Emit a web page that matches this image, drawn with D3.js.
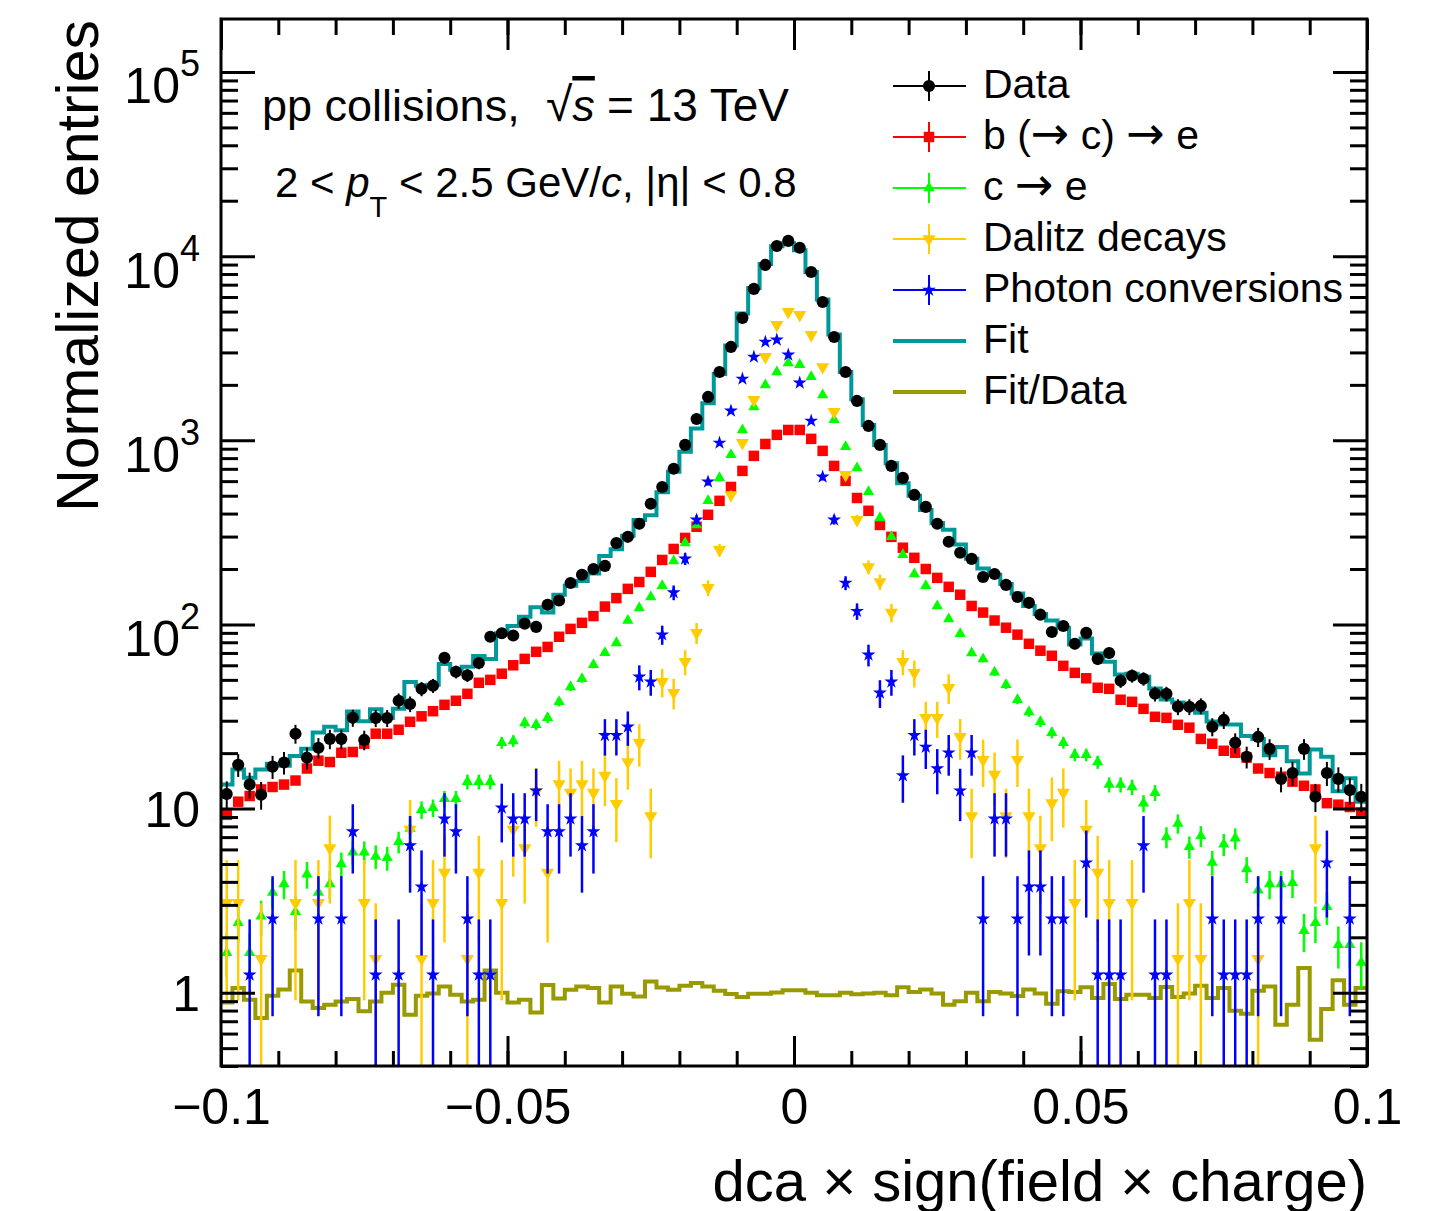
<!DOCTYPE html>
<html>
<head>
<meta charset="utf-8">
<script src="https://cdn.jsdelivr.net/npm/d3@7"></script>
<style>
  body { margin: 0; background: #fff; }
  svg text { font-family: "Liberation Sans", Arial, Helvetica, sans-serif; fill: #000; }
</style>
</head>
<body>
<svg id="chart" width="1441" height="1211"></svg>
<script>
// binning of the dca distribution
var binLow = -0.1, binWidth = 0.002, nBins = 100;

// normalized entries per bin
var dataVals = [12, 17.3, 13.5, 11.9, 16.9, 17.8, 25.5, 18.9, 21.4, 23.9,
  23.9, 31.1, 23.6, 31, 31, 38.5, 37, 44.7, 46.5, 65.9,
  55.3, 53, 61.7, 85.7, 89.6, 87, 101, 97, 128, 135,
  168, 186, 200, 208, 277, 299, 352, 452, 558, 700,
  944, 1306, 1720, 2350, 3214, 4620, 6640, 8960, 11350, 12100,
  11100, 8200, 5640, 3640, 2350, 1636, 1197, 944, 726, 625,
  505, 435, 352, 281, 245, 227, 181, 188, 164, 141,
  131, 113, 91, 98, 78.5, 90, 65, 70, 49.4, 52.6,
  50.7, 42, 42, 35.7, 35.7, 36.1, 27.8, 30.3, 22.8, 19.1,
  24.5, 21.1, 14.5, 15.6, 21.1, 11.6, 15.6, 14.5, 12.6, 11.6];

var beautyVals = [9.25, 10.9, 11.7, 12.7, 13.1, 13.5, 14.2, 16.5, 18.2, 17.9,
  20.1, 20.3, 22.5, 25.5, 25.5, 26.8, 29.6, 31.7, 33.8, 36.6,
  38.5, 42, 48.2, 50, 54, 60, 65, 71, 75.5, 85.7,
  94.6, 102, 111, 125, 139, 156, 170, 193, 224, 257,
  295, 339, 394, 469, 558, 682, 823, 955, 1070, 1138,
  1138, 1018, 876, 726, 602, 486, 414, 347, 299, 261,
  230, 200, 179, 160, 145, 126, 116, 105, 96, 88,
  78.5, 72, 67.6, 59.6, 54.6, 51, 45.3, 44.7, 39, 38,
  34.8, 31.5, 31.1, 28.5, 27.5, 23.9, 22.5, 20.6, 20.1, 18.9,
  16.5, 15.6, 14.9, 14, 13.3, 12.7, 10.7, 10.5, 10.2, 9.5];

var charmVals = [1.65, 2.4, 1.65, 2.6, 3.5, 3.9, 2.75, 4.4, 3.5, 3.9,
  5.0, 5.8, 5.8, 5.5, 5.4, 6.6, 7.8, 9.85, 10.1, 11.3,
  11.3, 14, 14, 14, 22.8, 23.3, 29.2, 28.5, 31.1, 38,
  45.8, 50.7, 60.4, 70.2, 79.4, 105, 123, 141, 162, 221,
  277, 347, 469, 625, 834, 1138, 1518, 1996, 2350, 2630,
  2570, 2210, 1762, 1291, 921, 708, 525, 379, 299, 239,
  188, 162, 126, 107, 89, 70, 65, 55, 47, 39,
  33.5, 29.6, 25.8, 22.8, 19.6, 19.6, 17.9, 13.5, 13.5, 13.1,
  10.7, 12.2, 7.0, 8.3, 6.2, 7.1, 5.1, 6.4, 6.9, 4.7,
  3.6, 3.9, 3.9, 3.95, 2.17, 2.4, 2.93, 1.82, 1.82, 1.46];

var dalitzVals = [3.08, 3.08, null, 1.53, null, null, 3.08, null, 3.08, 6.1,
  null, null, 3.08, 1.53, null, null, 7.7, 1.53, 3.08, 4.5,
  null, 1.53, 4.5, null, 3.08, 7.7, 6.1, 12.3, 4.5, 13.6,
  12.2, 13.6, 12.2, 15.1, 10.6, 17.9, 22.8, 9.1, 48.8, 42.6,
  62.7, 90, 158, 254, 505, 968, 1657, 2837, 4236, 4980,
  4800, 3735, 2502, 1426, 649, 370, 205, 170, 116, 62.7,
  54.6, 31.1, 31.1, 45.3, 24.5, 9.1, 18.4, 15.3, 9.1, 18.4,
  9.1, 6.1, 10.7, 12.2, 3.08, 7.7, 4.5, 3.08, null, 3.08,
  null, null, null, 1.53, 3.08, 1.53, null, null, null, null,
  1.53, null, null, null, null, 6.1, null, null, null, null];

var conversionVals = [null, null, 1.25, null, 2.52, null, null, null, 2.52, null,
  2.52, 7.5, null, 1.25, null, 1.25, 6.3, 3.76, 1.25, 8.8,
  7.5, 2.52, 1.25, 1.25, 10.1, 8.8, 8.8, 12.5, 7.5, 7.5,
  8.8, 6.3, 7.5, 25, 25, 27.8, 51.9, 48.8, 88, 149,
  227, 370, 595, 968, 1445, 2154, 2837, 3420, 3510, 2910,
  2050, 1274, 633, 370, 168, 118, 68.4, 42.5, 48.8, 15.1,
  25, 21.6, 16.5, 20.1, 12.5, 20.1, 2.52, 8.8, 8.8, 2.52,
  3.76, 3.76, 2.52, 2.52, null, 5.08, 1.25, 1.25, 1.25, null,
  6.3, 1.25, 1.25, null, null, null, 2.52, 1.25, 1.25, 1.25,
  2.52, null, 2.52, null, null, null, 5.08, null, 2.52, null];

var fitVals = [13.5, 16.3, 14.7, 16.3, 17.5, 17.1, 19.3, 21.1, 25.9, 27.8,
  26.6, 33.7, 29.8, 34.6, 31, 34.8, 48.7, 46.4, 47, 61,
  56.7, 59, 67.4, 65, 89.6, 98, 110, 124, 116, 145,
  162, 172, 189, 235, 256, 303, 369, 392, 522, 674,
  866, 1158, 1590, 2293, 3270, 4880, 6720, 9070, 11300, 11750,
  10780, 8200, 5810, 3750, 2350, 1670, 1210, 944, 750, 584,
  500, 418, 356, 327, 272, 227, 201, 186, 166, 147,
  126, 114, 105, 96, 77.7, 84, 69.5, 62.8, 53.5, 54,
  52, 44.9, 39.1, 37.7, 36.1, 33.1, 29.7, 28.6, 28.6, 24.8,
  23.9, 19.5, 21.6, 18.1, 15.5, 20.9, 19.1, 12.4, 14.6, 10.9];

var ratioVals = [0.886, 1.06, 0.916, 0.73, 0.963, 1.04, 1.32, 0.897, 0.826, 0.861,
  0.897, 0.924, 0.792, 0.897, 1.0, 1.105, 0.76, 0.963, 0.99, 1.08,
  0.975, 0.897, 0.916, 1.32, 1.0, 0.886, 0.916, 0.782, 1.10, 0.931,
  1.038, 1.082, 1.06, 0.886, 1.082, 0.988, 0.955, 1.152, 1.069, 1.038,
  1.09, 1.128, 1.082, 1.025, 0.983, 0.947, 0.988, 0.988, 1.004, 1.03,
  1.03, 1.0, 0.97, 0.97, 1.0, 0.98, 0.99, 1.0, 0.97, 1.07,
  1.01, 1.04, 0.99, 0.86, 0.90, 1.0, 0.90, 1.01, 0.99, 0.96,
  1.04, 0.99, 0.87, 1.02, 1.01, 1.07, 0.935, 1.114, 0.924, 0.975,
  0.975, 0.935, 1.073, 0.947, 0.99, 1.091, 0.935, 1.06, 0.798, 0.769,
  1.025, 1.082, 0.67, 0.861, 1.361, 0.556, 0.815, 1.167, 0.861, 1.06];

// weight of one entry, used for the Poisson error bars
var entryWeights = { data: 0.35, beauty: 0.03, charm: 0.12, dalitz: 1.53, conv: 1.25 };

var xTickValues = [-0.1, -0.05, 0, 0.05, 0.1];
var xTickLabels = ['\u22120.1', '\u22120.05', '0', '0.05', '0.1'];
var yTickValues = [1, 10, 100, 1000, 10000, 100000];
var yTickBase = ['1', '10', '10', '10', '10', '10'];
var yTickExp = ['', '', '2', '3', '4', '5'];

// legend labels, split so the arrows can use a font with a full size arrow
var legendLabels = [['Data'], ['b (', '\u2192', ' c) ', '\u2192', ' e'], ['c ', '\u2192', ' e'],
  ['Dalitz decays'], ['Photon conversions'], ['Fit'], ['Fit/Data']];

// frame
var fL = 221, fR = 1367, fT = 19, fB = 1066;

var svg = d3.select('#chart');

var x = d3.scaleLinear().domain([-0.1, 0.1]).range([fL, fR]);
var y = d3.scaleLog().domain([0.4, 1.94e5]).range([fB, fT]);

var centers = d3.range(nBins).map(function (k) { return binLow + binWidth * (k + 0.5); });

svg.append('defs').append('clipPath').attr('id', 'frameClip')
  .append('rect').attr('x', fL).attr('y', fT)
  .attr('width', fR - fL).attr('height', fB - fT);

var plot = svg.append('g').attr('clip-path', 'url(#frameClip)');

// histogram as a step line
function stepPoints(vals) {
  var pts = [];
  vals.forEach(function (v, k) {
    var lo = binLow + binWidth * k;
    pts.push([lo, v]);
    pts.push([lo + binWidth, v]);
  });
  return pts;
}
var stepLine = d3.line()
  .x(function (d) { return x(d[0]); })
  .y(function (d) { return y(d[1]); });

plot.append('path')
  .attr('d', stepLine(stepPoints(fitVals)))
  .attr('fill', 'none')
  .attr('stroke', '#009999')
  .attr('stroke-width', 4);

plot.append('path')
  .attr('d', stepLine(stepPoints(ratioVals)))
  .attr('fill', 'none')
  .attr('stroke', '#999900')
  .attr('stroke-width', 4);

var symbols = {
  circle: d3.symbol().type(d3.symbolCircle).size(115)(),
  square: d3.symbol().type(d3.symbolSquare).size(110)(),
  triUp: d3.symbol().type(d3.symbolTriangle).size(55)(),
  triDown: d3.symbol().type(d3.symbolTriangle).size(75)(),
  star: d3.symbol().type(d3.symbolStar).size(60)()
};

function drawSeries(vals, w, color, shape, rot, errWidth) {
  var pts = vals.map(function (v, i) { return { v: v, c: centers[i] }; })
    .filter(function (d) { return d.v !== null; });
  var g = plot.append('g');
  g.selectAll('line')
    .data(pts)
    .enter()
    .append('line')
    .attr('x1', function (d) { return x(d.c); })
    .attr('x2', function (d) { return x(d.c); })
    .attr('y1', function (d) { return y(d.v + Math.sqrt(d.v * w)); })
    .attr('y2', function (d) {
      var lo = d.v - Math.sqrt(d.v * w);
      return lo > 0.4 ? y(lo) : fB + 5;
    })
    .attr('stroke', color)
    .attr('stroke-width', errWidth);
  g.selectAll('path')
    .data(pts)
    .enter()
    .append('path')
    .attr('d', symbols[shape])
    .attr('transform', function (d) {
      return 'translate(' + x(d.c) + ',' + y(d.v) + ')' + (rot ? ' rotate(180)' : '');
    })
    .attr('fill', color);
}

drawSeries(beautyVals, entryWeights.beauty, '#ff0000', 'square', false, 2);
drawSeries(charmVals, entryWeights.charm, '#00ff00', 'triUp', false, 2.5);
drawSeries(dalitzVals, entryWeights.dalitz, '#ffcc00', 'triDown', true, 2.5);
drawSeries(conversionVals, entryWeights.conv, '#0000ff', 'star', false, 2.5);
drawSeries(dataVals, entryWeights.data, '#000000', 'circle', false, 2);

// axes, ticks pointing inwards on all four sides
function styleAxis(g) {
  g.select('.domain').remove();
  g.selectAll('line').attr('stroke', '#000').attr('stroke-width', 3);
}

svg.append('g')
  .attr('transform', 'translate(0,' + fB + ')')
  .call(d3.axisBottom(x).ticks(20).tickFormat('').tickSizeInner(-15).tickSizeOuter(0))
  .call(styleAxis);
var gx = svg.append('g')
  .attr('transform', 'translate(0,' + fB + ')')
  .call(d3.axisBottom(x).tickValues(xTickValues)
    .tickFormat(function (d, i) { return xTickLabels[i]; })
    .tickSizeInner(-30).tickSizeOuter(0).tickPadding(22))
  .call(styleAxis);
gx.selectAll('text').attr('font-size', 50).attr('fill', '#000')
  .attr('font-family', '"Liberation Sans", Arial, sans-serif');

svg.append('g')
  .attr('transform', 'translate(0,' + fT + ')')
  .call(d3.axisTop(x).ticks(20).tickFormat('').tickSizeInner(-16).tickSizeOuter(0))
  .call(styleAxis);
svg.append('g')
  .attr('transform', 'translate(0,' + fT + ')')
  .call(d3.axisTop(x).tickValues(xTickValues).tickFormat('').tickSizeInner(-31).tickSizeOuter(0))
  .call(styleAxis);

var yMinor = y.ticks().filter(function (t) { return yTickValues.indexOf(t) < 0; });

svg.append('g')
  .attr('transform', 'translate(' + fL + ',0)')
  .call(d3.axisLeft(y).tickValues(yMinor).tickFormat('').tickSizeInner(-17).tickSizeOuter(0))
  .call(styleAxis);
var gy = svg.append('g')
  .attr('transform', 'translate(' + fL + ',0)')
  .call(d3.axisLeft(y).tickValues(yTickValues).tickFormat('')
    .tickSizeInner(-34).tickSizeOuter(0).tickPadding(21))
  .call(styleAxis);
gy.selectAll('.tick text').each(function (d, i) {
  var t = d3.select(this)
    .attr('font-size', 50)
    .attr('fill', '#000')
    .attr('font-family', '"Liberation Sans", Arial, sans-serif')
    .attr('dy', yTickExp[i] ? '0.62em' : '0.36em')
    .text(null);
  t.append('tspan').text(yTickBase[i]);
  if (yTickExp[i]) {
    t.append('tspan').attr('font-size', 36).attr('dy', '-0.75em').text(yTickExp[i]);
  }
});

svg.append('g')
  .attr('transform', 'translate(' + fR + ',0)')
  .call(d3.axisRight(y).tickValues(yMinor).tickFormat('').tickSizeInner(-17).tickSizeOuter(0))
  .call(styleAxis);
svg.append('g')
  .attr('transform', 'translate(' + fR + ',0)')
  .call(d3.axisRight(y).tickValues(yTickValues).tickFormat('').tickSizeInner(-34).tickSizeOuter(0))
  .call(styleAxis);

svg.append('rect')
  .attr('x', fL).attr('y', fT)
  .attr('width', fR - fL).attr('height', fB - fT)
  .attr('fill', 'none').attr('stroke', '#000').attr('stroke-width', 3);

// axis titles
svg.append('text')
  .attr('x', fR)
  .attr('y', 1201)
  .attr('text-anchor', 'end')
  .attr('font-size', 58)
  .text('dca \u00d7 sign(field \u00d7 charge)');

svg.append('text')
  .attr('transform', 'translate(98,20) rotate(-90)')
  .attr('text-anchor', 'end')
  .attr('font-size', 59)
  .text('Normalized entries');

// collision system labels
var t1 = svg.append('text').attr('y', 121).attr('font-size', 45);
t1.append('tspan').attr('x', 262).text('pp collisions,');
t1.append('tspan').attr('x', 546).attr('font-size', 48).text('\u221a');
t1.append('tspan').attr('font-style', 'italic').attr('text-decoration', 'overline').text('s');
t1.append('tspan').attr('x', 607).attr('font-size', 46).text('= 13 TeV');

var t2 = svg.append('text').attr('x', 275).attr('y', 197).attr('font-size', 42);
t2.append('tspan').text('2 < ');
t2.append('tspan').attr('font-style', 'italic').text('p');
t2.append('tspan').attr('font-size', 29).attr('dy', 20).text('T');
t2.append('tspan').attr('dy', -20).text(' < 2.5 GeV/');
t2.append('tspan').attr('font-style', 'italic').text('c');
t2.append('tspan').text(', |\u03b7| < 0.8');

// legend
var legendRows = [
  { kind: 'marker', color: '#000000', shape: 'circle', rot: false },
  { kind: 'marker', color: '#ff0000', shape: 'square', rot: false },
  { kind: 'marker', color: '#00ff00', shape: 'triUp', rot: false },
  { kind: 'marker', color: '#ffcc00', shape: 'triDown', rot: true },
  { kind: 'marker', color: '#0000ff', shape: 'star', rot: false },
  { kind: 'line', color: '#009999' },
  { kind: 'line', color: '#999900' }
];
var legend = svg.append('g');
legendRows.forEach(function (r, i) {
  var cy = 86 + i * 51;
  var g = legend.append('g').attr('transform', 'translate(0,' + cy + ')');
  if (r.kind === 'marker') {
    g.append('line').attr('x1', 893).attr('x2', 966).attr('y1', 0).attr('y2', 0)
      .attr('stroke', r.color).attr('stroke-width', 2);
    g.append('line').attr('x1', 929).attr('x2', 929).attr('y1', -15).attr('y2', 15)
      .attr('stroke', r.color).attr('stroke-width', 2);
    g.append('path').attr('d', symbols[r.shape])
      .attr('transform', 'translate(929,0)' + (r.rot ? ' rotate(180)' : ''))
      .attr('fill', r.color);
  } else {
    g.append('line').attr('x1', 893).attr('x2', 966).attr('y1', 0).attr('y2', 0)
      .attr('stroke', r.color).attr('stroke-width', 4);
  }
  var t = g.append('text').attr('x', 983).attr('y', 12).attr('font-size', 41);
  legendLabels[i].forEach(function (part) {
    var s = t.append('tspan').text(part);
    if (part === '\u2192') s.attr('font-family', '"DejaVu Sans", sans-serif').attr('font-size', 46);
  });
});
</script>
</body>
</html>
